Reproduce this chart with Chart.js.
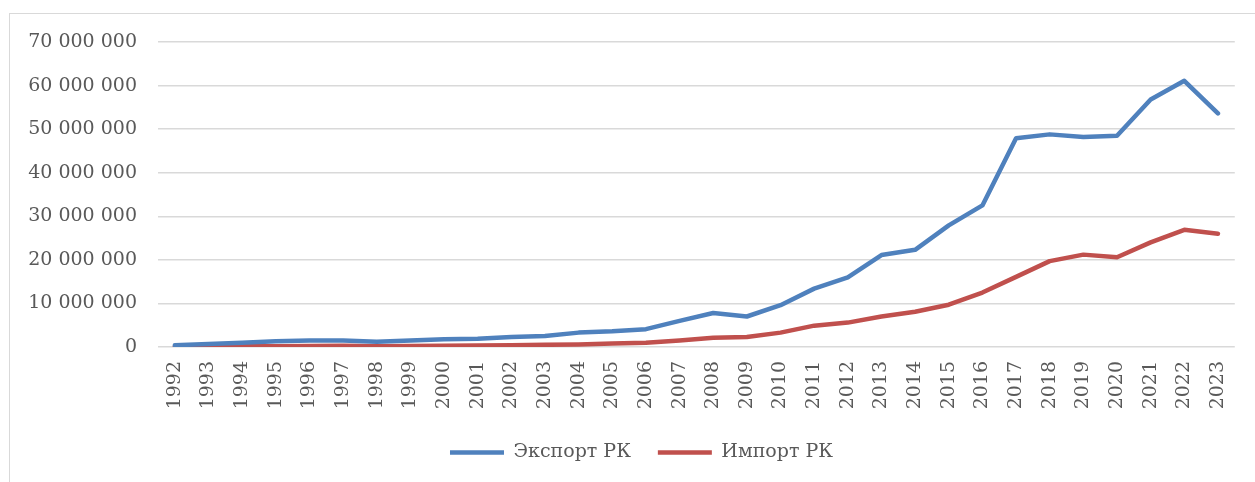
<!DOCTYPE html>
<html lang="ru">
<head>
    <meta charset="UTF-8">
    <title>Экспорт и импорт РК</title>
    <script src="https://cdn.jsdelivr.net/npm/chart.js"></script>
    <style>
        html, body {
            margin: 0;
            padding: 0;
            background: #ffffff;
            overflow: hidden;
        }
        .frame {
            position: absolute;
            left: 9px;
            top: 13px;
            width: 1300px;
            height: 520px;
            border: 1px solid #d9d9d9;
        }
        .chart-container {
            position: absolute;
            left: 0;
            top: 0;
            width: 1255px;
            height: 482px;
        }
    </style>
</head>
<body>
    <div class="frame"></div>
    <div class="chart-container">
        <canvas id="tradeChart"></canvas>
    </div>

    <script>
        const years = ['1992', '1993', '1994', '1995', '1996', '1997', '1998', '1999', '2000', '2001',
            '2002', '2003', '2004', '2005', '2006', '2007', '2008', '2009', '2010', '2011',
            '2012', '2013', '2014', '2015', '2016', '2017', '2018', '2019', '2020', '2021',
            '2022', '2023'];

        const exportRK = [400000, 700000, 1000000, 1300000, 1500000, 1500000, 1200000, 1500000, 1800000, 1900000,
            2300000, 2500000, 3300000, 3600000, 4100000, 6000000, 7800000, 7000000, 9600000, 13400000,
            16000000, 21100000, 22300000, 27900000, 32500000, 47900000, 48800000, 48200000, 48500000, 56800000,
            61100000, 53600000];

        const importRK = [50000, 100000, 150000, 200000, 250000, 300000, 200000, 250000, 300000, 350000,
            400000, 500000, 600000, 800000, 1000000, 1500000, 2100000, 2300000, 3300000, 4900000,
            5600000, 7000000, 8100000, 9700000, 12500000, 16100000, 19700000, 21200000, 20600000, 24000000,
            26900000, 26000000];

        const seriesNames = ['Экспорт РК', 'Импорт РК'];
        const seriesColors = ['#4f81bd', '#c0504d'];

        const fontFamily = '"DejaVu Serif", "Liberation Serif", serif';
        const textColor = '#595959';

        function formatThousands(value) {
            return String(value).replace(/\B(?=(\d{3})+(?!\d))/g, ' ');
        }

        // the left padding only exists to centre the legend; let the y labels use it too
        const widenYAxis = {
            id: 'widenYAxis',
            afterLayout(chart) {
                chart.scales.y.left = 0;
            }
        };

        const ctx = document.getElementById('tradeChart').getContext('2d');
        new Chart(ctx, {
            type: 'line',
            data: {
                labels: years,
                datasets: [exportRK, importRK].map((values, i) => ({
                    label: seriesNames[i],
                    data: values,
                    borderColor: seriesColors[i],
                    backgroundColor: seriesColors[i],
                    borderWidth: 4.5,
                    borderCapStyle: 'round',
                    borderJoinStyle: 'round',
                    pointRadius: 0,
                    pointHoverRadius: 0,
                    fill: false,
                    tension: 0
                }))
            },
            plugins: [widenYAxis],
            options: {
                responsive: true,
                maintainAspectRatio: false,
                animation: false,
                layout: {
                    padding: { top: 42, right: 16, bottom: 10, left: 44 }
                },
                plugins: {
                    tooltip: { enabled: false },
                    legend: {
                        position: 'bottom',
                        labels: {
                            usePointStyle: true,
                            pointStyle: 'line',
                            pointStyleWidth: 54,
                            padding: 27,
                            color: textColor,
                            font: { family: fontFamily, size: 19 }
                        }
                    }
                },
                scales: {
                    x: {
                        offset: true,
                        grid: { display: false, drawTicks: false },
                        border: { display: false },
                        ticks: {
                            autoSkip: false,
                            minRotation: 90,
                            maxRotation: 90,
                            padding: 14,
                            color: textColor,
                            font: { family: fontFamily, size: 19 }
                        },
                        afterFit: (scale) => { scale.height = 69; }
                    },
                    y: {
                        min: 0,
                        max: 70000000,
                        grid: { color: '#d9d9d9', lineWidth: 1.5, drawTicks: false },
                        border: { display: false },
                        ticks: {
                            stepSize: 10000000,
                            padding: 21,
                            color: textColor,
                            font: { family: fontFamily, size: 19 },
                            callback: (value) => formatThousands(value)
                        },
                        afterFit: (scale) => { scale.width = 114; }
                    }
                }
            }
        });
    </script>
</body>
</html>
